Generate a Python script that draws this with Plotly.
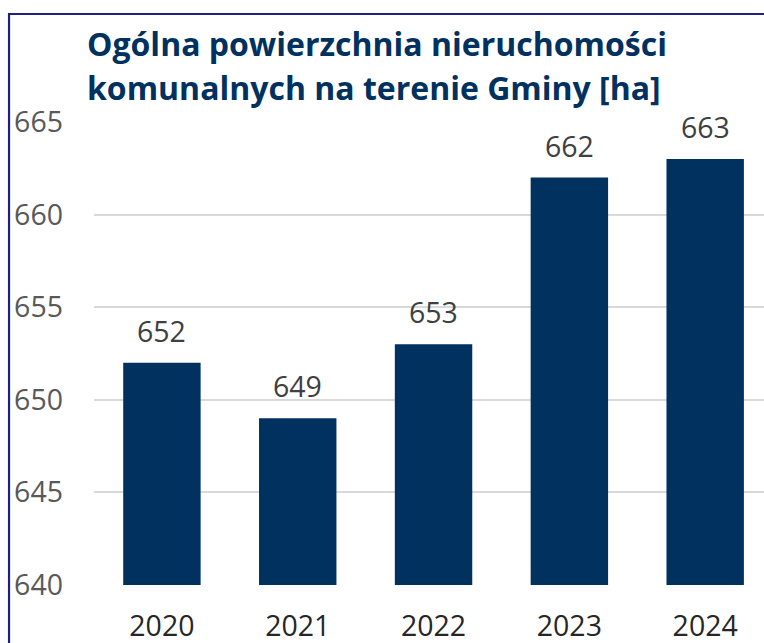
import plotly.graph_objects as go

years = ["2020", "2021", "2022", "2023", "2024"]
values = [652, 649, 653, 662, 663]
y_ticks = [640, 645, 650, 655, 660, 665]
title_line1 = "Ogólna powierzchnia nieruchomości"
title_line2 = "komunalnych na terenie Gminy [ha]"

navy = "#00315F"
font_family = "Open Sans, Noto Sans, sans-serif"

fig = go.Figure()
fig.add_trace(go.Bar(
    x=years, y=values, marker=dict(color=navy, line=dict(width=0)),
    width=0.57, hoverinfo="skip",
))

for i, v in enumerate(values):
    fig.add_annotation(x=i, y=v, xref="x", yref="y", text=str(v), showarrow=False,
                       yanchor="bottom", yshift=11,
                       font=dict(size=28.5, color="#404040", family=font_family))

fig.add_annotation(xref="paper", yref="paper", x=-0.014, y=1.170, text=title_line1,
                   showarrow=False, xanchor="left", yanchor="middle",
                   font=dict(size=32, color=navy, family=font_family, weight="bold"))
fig.add_annotation(xref="paper", yref="paper", x=-0.014, y=1.074, text=title_line2,
                   showarrow=False, xanchor="left", yanchor="middle",
                   font=dict(size=32, color=navy, family=font_family, weight="bold"))

fig.add_shape(type="rect", xref="paper", yref="paper",
              x0=-0.1268, x1=1.2, y0=-0.3, y1=1.2333,
              line=dict(color="#1F1F80", width=2.2), layer="above")

fig.update_layout(
    width=764, height=643,
    margin=dict(l=94, r=0, t=122, b=58, autoexpand=False),
    paper_bgcolor="white", plot_bgcolor="white",
    showlegend=False,
    font=dict(family=font_family),
    xaxis=dict(type="category", range=[-0.5, 4.433], showgrid=False,
               showline=False, ticks="", tickfont=dict(size=28.5, color="#262626"),
               ticklabelstandoff=21, automargin=False),
    yaxis=dict(range=[640, 665], tickvals=y_ticks, showgrid=True,
               gridcolor="#D9D9D9", gridwidth=1.5, zeroline=False,
               showline=False, ticks="", tickfont=dict(size=28.5, color="#595959"),
               ticklabelstandoff=30, automargin=False),
)

fig.write_html("out.html", config={"displayModeBar": False},
               post_script="document.body.style.margin='0';document.body.style.overflow='hidden';")
